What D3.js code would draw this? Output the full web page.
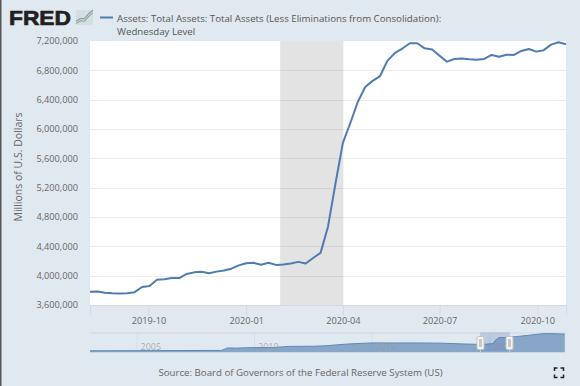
<!DOCTYPE html>
<html><head><meta charset="utf-8">
<script src="https://cdn.jsdelivr.net/npm/d3@7/dist/d3.min.js"></script>
<style>html,body{margin:0;padding:0;background:#e1e9f0;overflow:hidden}svg{display:block}text{font-family:"Open Sans",sans-serif}</style>
</head><body><svg id="c" width="580" height="386"></svg>
<script>
const startDate = "2019-08-07";
const endDate = "2020-10-28";
const weeklyValues = [3781000,3783000,3768000,3760000,3758000,3760000,3775000,3845000,3860000,3945000,3950000,3968000,3968000,4023000,4045000,4052000,4033000,4055000,4070000,4095000,4140000,4170000,4175000,4150000,4175000,4147000,4152000,4165000,4188000,4165000,4241000,4311000,4668000,5254000,5811000,6082000,6368000,6573000,6656000,6722000,6933000,7037000,7097000,7169000,7169000,7100000,7085000,7000000,6918000,6955000,6960000,6950000,6945000,6955000,7010000,6985000,7013000,7010000,7064000,7090000,7055000,7075000,7150000,7182000,7155000];
const yTicks = [3600000,4000000,4400000,4800000,5200000,5600000,6000000,6400000,6800000,7200000];
const xTicks = ["2019-10-01","2020-01-01","2020-04-01","2020-07-01","2020-10-01"];
const recession = ["2020-02-02","2020-04-01"];
const titleLines = ["Assets: Total Assets: Total Assets (Less Eliminations from Consolidation):","Wednesday Level"];
const yLabel = "Millions of U.S. Dollars";
const sourceText = "Source: Board of Governors of the Federal Reserve System (US)";
const navYears = [2003,2005,2007,2008.6,2008.75,2008.85,2009.2,2010,2010.8,2011.5,2012.5,2013,2014,2015,2016,2017,2018,2019,2019.7,2020.15,2020.25,2020.4,2020.8,2021.2,2021.7,2022.2,2022.6,2023.2];
const navValues = [0.72,0.78,0.85,0.9,1.6,2.1,2.0,2.25,2.3,2.85,2.9,3.1,4.0,4.5,4.48,4.47,4.35,3.95,3.76,4.17,5.8,7.0,7.15,7.6,8.2,8.85,8.95,8.7];
const navTicks = [2005,2010,2015,2020];

const pd = d3.utcParse("%Y-%m-%d");
const weeks = d3.utcWeek.range(pd("2019-08-04"), pd("2020-10-26")).map(d => d3.utcDay.offset(d,3));
const x = d3.scaleUtc().domain([pd(startDate),pd(endDate)]).range([90,566]);
const y = d3.scaleLinear().domain([3600000,7200000]).range([305,41]);
const nx = d3.scaleLinear().domain([2003,2023.25]).range([90,566]);
const ny = d3.scaleLinear().domain([0,9]).range([352.3,333.5]);
const svg = d3.select("#c");
const txt = "#666666";
const fs = 9.2;

svg.append("rect").attr("x",0).attr("y",0).attr("width",1.5).attr("height",386).attr("fill","#555");
svg.append("rect").attr("x",90).attr("y",41).attr("width",476).attr("height",264).attr("fill","#fff");
svg.append("rect").attr("x",x(pd(recession[0]))).attr("y",41).attr("width",x(pd(recession[1]))-x(pd(recession[0]))+.5).attr("height",264).attr("fill","#e3e3e3");

// y axis
const ya = svg.append("g").attr("transform","translate(90,0)").call(d3.axisLeft(y).tickValues(yTicks).tickFormat(d3.format(",")).tickSize(0).tickPadding(12));
ya.select(".domain").remove();
ya.selectAll("text").attr("font-size",fs).attr("fill",txt).style("font-family",'"Open Sans"');
svg.append("g").selectAll("line").data(yTicks.slice(1,-1)).join("line")
  .attr("x1",90).attr("x2",566).attr("y1",d=>Math.round(y(d))+.5).attr("y2",d=>Math.round(y(d))+.5)
  .attr("stroke","#000").attr("stroke-opacity",.07).attr("stroke-width",1);

// x axis
const xa = svg.append("g").attr("transform","translate(0,305)").call(d3.axisBottom(x).tickValues(xTicks.map(pd)).tickFormat(d3.utcFormat("%Y-%m")).tickSize(10).tickPadding(2));
xa.select(".domain").attr("stroke","#cfdae6");
xa.selectAll("line").attr("stroke","#cfdae6");
xa.selectAll("text").attr("font-size",fs).attr("fill",txt).style("font-family",'"Open Sans"');

// line
svg.append("path").datum(weeklyValues).attr("fill","none").attr("stroke","#4f7cb0").attr("stroke-width",2)
  .attr("stroke-linejoin","round")
  .attr("d",d3.line().x((d,i)=>x(weeks[i])).y(d=>y(d)));

// labels
svg.append("text").attr("transform","translate(22,167) rotate(-90)").attr("text-anchor","middle").attr("font-size",10.5).attr("fill",txt).text(yLabel);
svg.append("line").attr("x1",100).attr("x2",113).attr("y1",17.5).attr("y2",17.5).attr("stroke","#4f7cb0").attr("stroke-width",2);
svg.append("g").selectAll("text").data(titleLines).join("text").attr("x",117).attr("y",(d,i)=>21.5+i*13.5)
  .attr("font-size",9.7).attr("font-weight",500).attr("fill","#555").text(d=>d);

// logo
svg.append("text").attr("x",9).attr("y",25).attr("font-size",21).attr("font-weight",700).attr("fill","#231f20")
  .attr("stroke","#231f20").attr("stroke-width",.7).attr("textLength",62).attr("lengthAdjust","spacingAndGlyphs")
  .style("font-family",'"Liberation Sans"').text("FRED");
const logoX = d3.scaleLinear().domain([0,4]).range([76,93]);
const logoY = d3.scaleLinear().domain([0,4]).range([25,10]);
const logoBlue = [1,1.7,1.7,3,4], logoGreen = [0.4,1.1,1,2.3,3.3];
svg.append("rect").attr("x",76).attr("y",10).attr("width",17).attr("height",15).attr("fill","#d5dde3");
const ll = d3.line().x((d,i)=>logoX(i)).y(d=>logoY(d));
svg.append("path").attr("d",ll(logoBlue)).attr("fill","none").attr("stroke","#7f9bb8").attr("stroke-width",1.1);
svg.append("path").attr("d",ll(logoGreen)).attr("fill","none").attr("stroke","#8fae7f").attr("stroke-width",1.1);

// navigator
svg.append("line").attr("x1",90).attr("x2",566).attr("y1",333).attr("y2",333).attr("stroke","#d8dfe6").attr("stroke-width",2);
svg.append("g").selectAll("line").data(navTicks).join("line")
  .attr("x1",d=>nx(d)).attr("x2",d=>nx(d)).attr("y1",334).attr("y2",352).attr("stroke","#d5dee8");
const navPts = navYears.map((t,i)=>[t,navValues[i]]);
svg.append("path").datum(navPts).attr("fill","#4f7cb0").attr("fill-opacity",.62)
  .attr("d",d3.area().x(d=>nx(d[0])).y0(ny(0)).y1(d=>ny(d[1])));
svg.append("path").datum(navPts).attr("fill","none").attr("stroke","#5f88b8").attr("stroke-width",1)
  .attr("d",d3.line().x(d=>nx(d[0])).y(d=>ny(d[1])));
svg.append("g").selectAll("text").data(navTicks).join("text").attr("x",d=>nx(d)+3.5).attr("y",350)
  .attr("font-size",9).attr("fill","#999").attr("fill-opacity",.8).text(d=>d);
const selA = 480.5, selB = 509.5;
svg.append("rect").attr("x",selA).attr("y",332.5).attr("width",selB-selA).attr("height",19.8)
  .attr("fill","#6685c2").attr("fill-opacity",.3).attr("stroke","#c4cedb").attr("stroke-width",1);
svg.append("g").selectAll("rect.h").data([selA,selB]).join("rect").attr("class","h")
  .attr("x",d=>d-3.5).attr("y",336.5).attr("width",7).attr("height",13).attr("rx",1.5)
  .attr("fill","#f4f4f4").attr("stroke","#c4c4c4").attr("stroke-width",1);
svg.append("g").selectAll("rect.core").data([selA,selB]).join("rect").attr("class","core")
  .attr("x",d=>d-1.5).attr("y",339).attr("width",3).attr("height",8).attr("fill","#c8c8c8");

svg.append("text").attr("x",300.5).attr("y",375.5).attr("text-anchor","middle").attr("font-size",9.7).attr("fill",txt).text(sourceText);

// expand icon
const ic = [[554.5,371,554.5,368,557.5,368],[560.5,368,563.5,368,563.5,371],[563.5,374.5,563.5,377.5,560.5,377.5],[557.5,377.5,554.5,377.5,554.5,374.5]];
svg.append("g").selectAll("path").data(ic).join("path")
  .attr("d",d=>`M${d[0]},${d[1]}L${d[2]},${d[3]}L${d[4]},${d[5]}`).attr("fill","none").attr("stroke","#222").attr("stroke-width",1.5);
</script></body></html>
